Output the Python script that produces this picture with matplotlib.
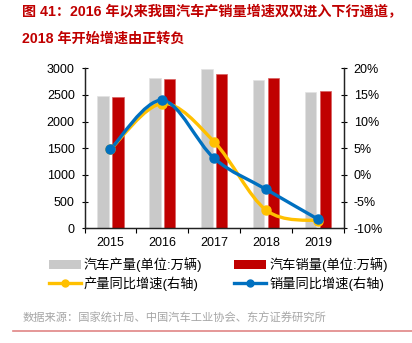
import matplotlib
matplotlib.use("Agg")
import matplotlib.pyplot as plt
import numpy as np
from matplotlib.path import Path
from matplotlib.patches import PathPatch, Patch
from matplotlib.lines import Line2D

plt.rcParams['font.family'] = ['Liberation Sans', 'Noto Sans CJK SC']

# 数据
years = ['2015', '2016', '2017', '2018', '2019']
production = [2490, 2820, 2995, 2790, 2555]      # 汽车产量(万辆)
sales = [2460, 2805, 2885, 2810, 2575]           # 汽车销量(万辆)
prod_growth = [4.8, 13.4, 6.2, -6.6, -8.6]       # 产量同比增速(%)
sales_growth = [4.8, 14.0, 3.1, -2.7, -8.3]      # 销量同比增速(%)

GRAY = '#C9C9C9'
RED = '#C00000'
YELLOW = '#FFC000'
BLUE = '#0070C0'


def smooth_path(xs, ys):
    # 平滑曲线: 三次贝塞尔 (Catmull-Rom 控制点)
    pts = np.column_stack([xs, ys]).astype(float)
    n = len(pts)
    verts = [pts[0]]
    codes = [Path.MOVETO]
    for i in range(n - 1):
        p0 = pts[i - 1] if i > 0 else pts[i]
        p1 = pts[i]
        p2 = pts[i + 1]
        p3 = pts[i + 2] if i + 2 < n else pts[i + 1]
        c1 = p1 + (p2 - p0) / 6.0
        c2 = p2 - (p3 - p1) / 6.0
        verts += [c1, c2, p2]
        codes += [Path.CURVE4] * 3
    return Path(verts, codes)


fig = plt.figure(figsize=(4.12, 3.43), dpi=100)
ax = fig.add_axes([84.5 / 412, 1 - 228.3 / 343, (344 - 84.5) / 412, (228.3 - 68.3) / 343])
ax2 = ax.twinx()

x = np.arange(len(years))
w = 0.22
off = 0.142
ax.bar(x - off, production, width=w, color=GRAY, edgecolor='#E2E2E2', linewidth=0.5, zorder=2)
ax.bar(x + off, sales, width=w, color=RED, edgecolor='#D86060', linewidth=0.5, zorder=2)

ax.set_xlim(-0.5, len(years) - 0.5)
ax.set_ylim(0, 3000)
ax.set_yticks(np.arange(0, 3001, 500))
ax2.set_ylim(-10, 20)
ax2.set_yticks(np.arange(-10, 21, 5))
ax2.set_yticklabels([f'{v}%' for v in range(-10, 21, 5)])

for series, color in [(prod_growth, YELLOW), (sales_growth, BLUE)]:
    ax2.add_patch(PathPatch(smooth_path(x, series), facecolor='none', edgecolor=color,
                            linewidth=2.4, capstyle='round', zorder=3))
    ax2.plot(x, series, linestyle='none', marker='o', markersize=6.5, color=color, zorder=4)

ax.set_xticks(x)
ax.set_xticklabels(years)
ax.set_xticks(np.arange(-0.5, len(years), 1), minor=True)
ax.tick_params(axis='x', which='major', length=0, pad=6, labelsize=9)
ax.tick_params(axis='x', which='minor', length=3.5, direction='out', width=0.8)
ax.tick_params(axis='y', length=4, direction='inout', width=0.8, labelsize=9, pad=5)
ax2.tick_params(axis='y', length=4, direction='inout', width=0.8, labelsize=9, pad=5)

for a in (ax, ax2):
    a.spines['top'].set_visible(False)
    for s in ('left', 'right', 'bottom'):
        a.spines[s].set_linewidth(0.9)
        a.spines[s].set_color('#222222')

# 图例
handles = [
    Patch(facecolor=GRAY, edgecolor='none'),
    Line2D([], [], color=YELLOW, lw=2.4, marker='o', markersize=5),
    Patch(facecolor=RED, edgecolor='none'),
    Line2D([], [], color=BLUE, lw=2.4, marker='o', markersize=5),
]
labels = ['汽车产量(单位:万辆)', '产量同比增速(右轴)', '汽车销量(单位:万辆)', '销量同比增速(右轴)']
fig.legend(handles, labels, ncol=2, loc='upper left', bbox_to_anchor=(49 / 412, 1 - 257 / 343),
           frameon=False, fontsize=9.5, handlelength=2.4, handletextpad=0.25,
           columnspacing=2.4, labelspacing=0.35, borderpad=0, borderaxespad=0)

# 标题
title_kw = dict(color='#C00000', fontsize=10.2, fontweight='bold', ha='left', va='center')
fig.text(22 / 412, 1 - 12 / 343, '图 41：2016 年以来我国汽车产销量增速双双进入下行通道，', **title_kw)
fig.text(22 / 412, 1 - 39 / 343, '2018 年开始增速由正转负', **title_kw)

# 资料来源
fig.text(22.5 / 412, 1 - 318.3 / 343, '数据来源：国家统计局、中国汽车工业协会、东方证券研究所',
         color='#A6A6A6', fontsize=8.1, ha='left', va='center')
fig.add_artist(Line2D([12.5 / 412, 1], [1 - 330.7 / 343] * 2, color='#E08585', lw=1.2))

fig.savefig('out.png', dpi=100)
